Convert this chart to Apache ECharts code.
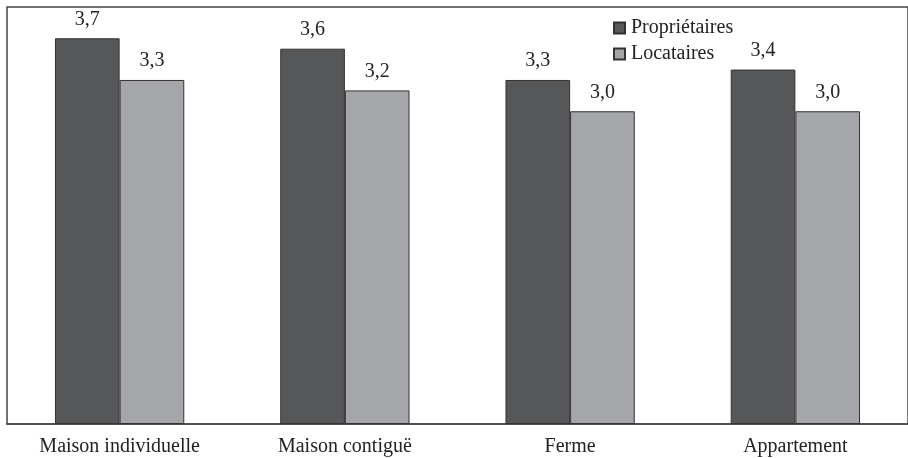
<!DOCTYPE html>
<html>
<head>
<meta charset="utf-8">
<script src="https://cdn.jsdelivr.net/npm/echarts@6/dist/echarts.min.js"></script>
<style>
  html, body { margin: 0; padding: 0; background: #fff; }
  #chart { width: 908px; height: 458px; }
</style>
</head>
<body>
<div id="chart"></div>
<script>
// Catégories de logement et valeurs moyennes par statut d'occupation
const categories = ['Maison individuelle', 'Maison contiguë', 'Ferme', 'Appartement'];
const proprietaires = [3.7, 3.6, 3.3, 3.4];
const locataires = [3.3, 3.2, 3.0, 3.0];
const seriesNames = ['Propriétaires', 'Locataires'];

const serif = "'Liberation Serif', 'DejaVu Serif', serif";
const fmt = p => p.value.toFixed(1).replace('.', ',');

const chart = echarts.init(document.getElementById('chart'), null, { renderer: 'canvas' });

const labelStyle = {
  show: true,
  position: 'top',
  distance: 9,
  formatter: fmt,
  fontFamily: serif,
  fontSize: 20,
  color: '#222'
};

chart.setOption({
  animation: false,
  backgroundColor: '#fff',
  grid: {
    left: 7, right: -5, top: 7, bottom: 34,
    show: true,
    borderColor: '#444',
    borderWidth: 1.5,
    containLabel: false
  },
  legend: {
    data: seriesNames,
    orient: 'vertical',
    left: 608,
    top: 13,
    itemWidth: 11,
    itemHeight: 11,
    itemGap: 6,
    icon: 'rect',
    textStyle: { fontFamily: serif, fontSize: 20, color: '#222', padding: [0, 0, 0, 1] }
  },
  xAxis: {
    type: 'category',
    data: categories,
    axisLine: { show: true, lineStyle: { color: '#444', width: 1.5 } },
    axisTick: { show: false },
    axisLabel: { fontFamily: serif, fontSize: 20, color: '#222', margin: 13 }
  },
  yAxis: {
    type: 'value',
    min: 0,
    max: 4,
    show: false,
    splitLine: { show: false }
  },
  series: [
    {
      name: seriesNames[0],
      type: 'bar',
      data: proprietaires,
      barGap: '0%',
      barCategoryGap: '42.6%',
      itemStyle: { color: '#555759', borderColor: '#333', borderWidth: 1 },
      label: labelStyle
    },
    {
      name: seriesNames[1],
      type: 'bar',
      data: locataires,
      itemStyle: { color: '#a5a6a9', borderColor: '#333', borderWidth: 1 },
      label: labelStyle
    }
  ]
});
</script>
</body>
</html>
